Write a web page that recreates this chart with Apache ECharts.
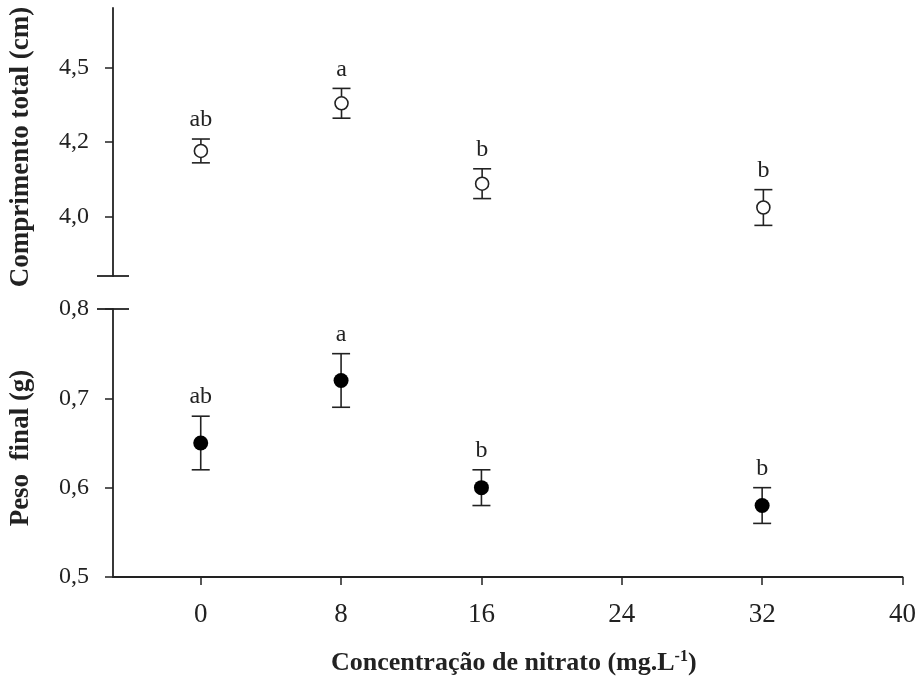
<!DOCTYPE html>
<html lang="pt">
  <head>
    <meta charset="UTF-8" />
    <title>Comprimento e peso x nitrato</title>
    <script src="https://cdn.jsdelivr.net/npm/echarts@6/dist/echarts.min.js"></script>
    <style>
      html, body { margin: 0; padding: 0; background: #fff; }
      #main { width: 919px; height: 688px; }
    </style>
  </head>
  <body>
    <div id="main"></div>
    <script>
      // concentracao de nitrato (mg/L)
      var conc = [0, 8, 16, 32];
      // comprimento total (cm): media e erro
      var lenMean = [4.22, 4.38, 4.11, 4.03];
      var lenErr = [0.04, 0.05, 0.05, 0.06];
      // peso final (g): media e erro
      var wMean = [0.65, 0.72, 0.60, 0.58];
      var wErr = [0.03, 0.03, 0.02, 0.02];
      // letras do teste de medias
      var lenLetters = ['ab', 'a', 'b', 'b'];
      var wLetters = ['ab', 'a', 'b', 'b'];
      // eixos
      var xTicks = [0, 8, 16, 24, 32, 40];
      var lenTicks = [4.0, 4.25, 4.5];
      var lenTickLabels = ['4,0', '4,2', '4,5'];
      var wTicks = [0.5, 0.6, 0.7, 0.8];
      var wTickLabels = ['0,5', '0,6', '0,7', '0,8'];

      var FONT = "'Liberation Serif', 'Times New Roman', serif";
      var INK = '#222';

      var chart = echarts.init(document.getElementById('main'));

      function errBars(letters) {
        return function (params, api) {
          var x = api.value(0);
          var top = api.coord([x, api.value(2)]);
          var bot = api.coord([x, api.value(1)]);
          var hw = 9;
          var st = { stroke: INK, lineWidth: 1.6 };
          return {
            type: 'group',
            children: [
              { type: 'line', shape: { x1: top[0], y1: top[1], x2: bot[0], y2: bot[1] }, style: st },
              { type: 'line', shape: { x1: top[0] - hw, y1: top[1], x2: top[0] + hw, y2: top[1] }, style: st },
              { type: 'line', shape: { x1: bot[0] - hw, y1: bot[1], x2: bot[0] + hw, y2: bot[1] }, style: st },
              {
                type: 'text', x: top[0], y: top[1] - 7,
                style: { text: letters[params.dataIndex], align: 'center', verticalAlign: 'bottom',
                  fontFamily: FONT, fontSize: 24, fill: INK }
              }
            ]
          };
        };
      }

      var lenRange = conc.map(function (c, i) { return [c, lenMean[i] - lenErr[i], lenMean[i] + lenErr[i]]; });
      var wRange = conc.map(function (c, i) { return [c, wMean[i] - wErr[i], wMean[i] + wErr[i]]; });

      var axisLineStyle = { color: INK, width: 1.8 };
      var labelStyle = { fontFamily: FONT, color: INK };

      var option = {
        backgroundColor: '#fff',
        animation: false,
        grid: [
          { left: 112, right: 15, top: 8, height: 268 },
          { left: 112, right: 15, top: 309, height: 268 }
        ],
        xAxis: [
          { type: 'value', gridIndex: 0, min: -5, max: 40, show: false },
          {
            type: 'value', gridIndex: 1, min: -5, max: 40,
            splitLine: { show: false },
            axisLine: { show: true, onZero: false, lineStyle: axisLineStyle },
            axisTick: { show: true, length: 8, customValues: xTicks, lineStyle: { color: INK, width: 1.5 } },
            axisLabel: Object.assign({ customValues: xTicks, fontSize: 27, margin: 24 }, labelStyle),
            name: '{t|Concentração de nitrato (mg.L}{s|-1}{t|)}',
            nameLocation: 'middle',
            nameGap: 72,
            nameTextStyle: {
              padding: [0, 0, 0, 12],
              rich: {
                t: { fontFamily: FONT, fontSize: 26, fontWeight: 'bold', color: INK },
                s: { fontFamily: FONT, fontSize: 16, fontWeight: 'bold', color: INK, verticalAlign: 'top', padding: [0, 0, 13, 0] }
              }
            }
          }
        ],
        yAxis: [
          {
            type: 'value', gridIndex: 0, min: 3.8, max: 4.7,
            splitLine: { show: false },
            axisLine: { show: true, onZero: false, lineStyle: axisLineStyle },
            axisTick: { show: true, length: 8, customValues: lenTicks, lineStyle: { color: INK, width: 1.5 } },
            axisLabel: Object.assign({
              customValues: lenTicks, fontSize: 24, margin: 24,
              formatter: function (v) { return lenTickLabels[lenTicks.indexOf(v)]; }
            }, labelStyle),
            name: 'Comprimento total (cm)',
            nameLocation: 'middle',
            nameGap: 78,
            nameTextStyle: { fontFamily: FONT, fontSize: 27, fontWeight: 'bold', color: INK, padding: [0, 10, 0, 0] }
          },
          {
            type: 'value', gridIndex: 1, min: 0.5, max: 0.8, interval: 0.1,
            splitLine: { show: false },
            axisLine: { show: true, onZero: false, lineStyle: axisLineStyle },
            axisTick: { show: true, length: 8, lineStyle: { color: INK, width: 1.5 } },
            axisLabel: Object.assign({
              fontSize: 24, margin: 24,
              formatter: function (v) { return wTickLabels[wTicks.indexOf(Math.round(v * 10) / 10)]; }
            }, labelStyle),
            name: 'Peso  final (g)',
            nameLocation: 'middle',
            nameGap: 78,
            nameTextStyle: { fontFamily: FONT, fontSize: 27, fontWeight: 'bold', color: INK, padding: [0, 10, 0, 0] }
          }
        ],
        series: [
          {
            type: 'custom', xAxisIndex: 0, yAxisIndex: 0,
            renderItem: errBars(lenLetters), data: lenRange, encode: { x: 0, y: [1, 2] }, z: 2
          },
          {
            type: 'scatter', xAxisIndex: 0, yAxisIndex: 0,
            data: conc.map(function (c, i) { return [c, lenMean[i]]; }),
            symbol: 'circle', symbolSize: 13,
            itemStyle: { color: '#fff', borderColor: INK, borderWidth: 1.6, opacity: 1 }, z: 3
          },
          {
            type: 'custom', xAxisIndex: 1, yAxisIndex: 1,
            renderItem: errBars(wLetters), data: wRange, encode: { x: 0, y: [1, 2] }, z: 2
          },
          {
            type: 'scatter', xAxisIndex: 1, yAxisIndex: 1,
            data: conc.map(function (c, i) { return [c, wMean[i]]; }),
            symbol: 'circle', symbolSize: 15,
            itemStyle: { color: '#000', opacity: 1 }, z: 3
          }
        ]
      };

      chart.setOption(option);

      // marcas de quebra do eixo y
      var brkTop = chart.convertToPixel({ gridIndex: 0 }, [-5, 3.8]);
      var brkBot = chart.convertToPixel({ gridIndex: 1 }, [-5, 0.8]);
      var bw = 16;
      chart.setOption({
        graphic: [
          { type: 'line', shape: { x1: brkTop[0] - bw, y1: brkTop[1], x2: brkTop[0] + bw, y2: brkTop[1] }, style: { stroke: INK, lineWidth: 1.8 } },
          { type: 'line', shape: { x1: brkBot[0] - bw, y1: brkBot[1], x2: brkBot[0] + bw, y2: brkBot[1] }, style: { stroke: INK, lineWidth: 1.8 } }
        ]
      });
    </script>
  </body>
</html>
